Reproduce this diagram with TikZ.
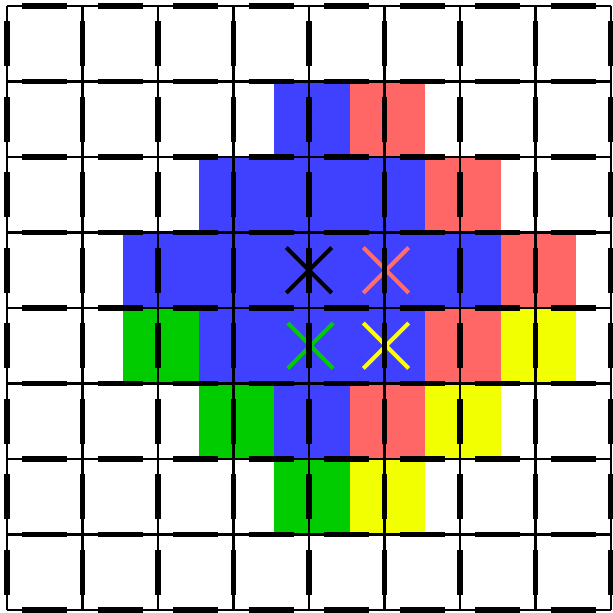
\documentclass[tikz,border=0pt]{standalone}
\usepackage{xcolor}
\usepackage{tikz}

\definecolor{cellblue}{RGB}{64,64,255}
\definecolor{cellred}{RGB}{255,102,102}
\definecolor{cellgreen}{RGB}{0,204,0}
\definecolor{cellyellow}{RGB}{242,255,0}
\definecolor{crossred}{RGB}{255,110,105}
\definecolor{crossyellow}{RGB}{255,255,0}

\begin{document}
\begin{tikzpicture}[
    x=1cm, y=1cm,
    thinline/.style={line width=1.1pt},
    thickseg/.style={line width=2.2pt},
    crossline/.style={line width=1.5pt},
]
\useasboundingbox (-0.093,-0.04) rectangle (8.026,8.08);

% Coloured cells (shifted about half a cell to the right)
\begin{scope}[xshift=0.04cm]
\foreach \x/\y in {3.5/6, 2.5/5, 3.5/5, 4.5/5, 1.5/4, 2.5/4, 3.5/4, 4.5/4, 5.5/4,
                   2.5/3, 3.5/3, 4.5/3, 3.5/2}
    \fill[cellblue] (\x,\y) rectangle ++(1,1);
\foreach \x/\y in {4.5/6, 5.5/5, 6.5/4, 5.5/3, 4.5/2}
    \fill[cellred] (\x,\y) rectangle ++(1,1);
\foreach \x/\y in {1.5/3, 2.5/2, 3.5/1}
    \fill[cellgreen] (\x,\y) rectangle ++(1,1);
\foreach \x/\y in {6.5/3, 5.5/2, 4.5/1}
    \fill[cellyellow] (\x,\y) rectangle ++(1,1);
\end{scope}

% Crosses
\foreach \x/\y/\c in {4/4.5/black, 5.02/4.5/crossred, 4.02/3.5/cellgreen, 5.02/3.5/crossyellow}
    \draw[crossline, \c] (\x,\y) +(-0.3,-0.3) -- +(0.3,0.3) +(-0.3,0.3) -- +(0.3,-0.3);

% Grid
\foreach \i in {0,...,8} {
    \draw[thinline] (\i,0) -- (\i,8);
    \draw[thinline] (0,\i) -- (8,\i);
    \foreach \j in {0,...,7} {
        \draw[thickseg] (\i,\j+0.2) -- (\i,\j+0.8);
        \draw[thickseg] (\j+0.2,\i) -- (\j+0.8,\i);
    }
}
\end{tikzpicture}
\end{document}
